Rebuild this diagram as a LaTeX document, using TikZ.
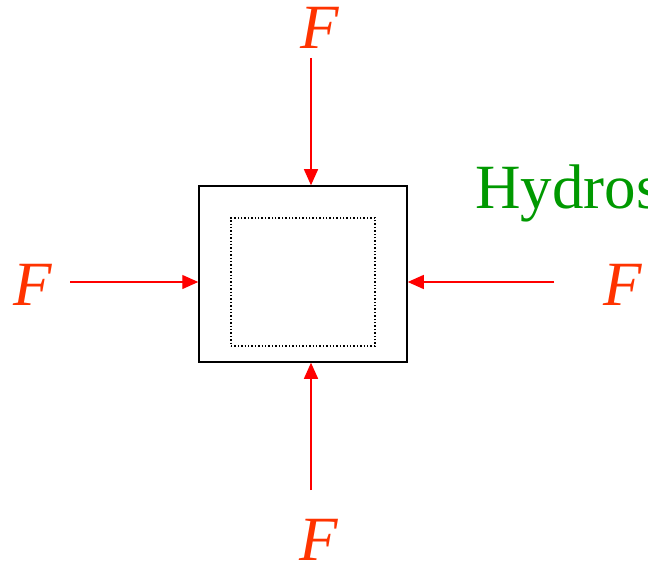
\documentclass[tikz,border=0pt]{standalone}
\usepackage{fontspec}
\setmainfont{Liberation Serif}
\usetikzlibrary{arrows.meta}
\definecolor{fred}{RGB}{255,51,0}
\definecolor{hgreen}{RGB}{0,153,0}
\tikzset{
  arr/.style={draw=red, line width=1.3pt, -{Triangle[length=16pt,width=14pt]}},
  flabel/.style={text=fred, font=\fontsize{63}{63}\selectfont\itshape, inner sep=0pt, anchor=base},
  outerbox/.style={draw=black, line width=1.5pt, minimum width=208pt, minimum height=176pt, inner sep=0pt},
  innerbox/.style={draw=black, line width=1.4pt, dotted, minimum width=144pt, minimum height=128pt, inner sep=0pt},
}
\begin{document}
\begin{tikzpicture}[x=1pt,y=-1pt]
\useasboundingbox (0,0) rectangle (648,564);
\clip (0,0) rectangle (648,564);
\node[outerbox] (box) at (303,274) {};
\node[innerbox] (inner) at (303,282) {};
\node[flabel] (ft) at (320,49) {F};
\node[flabel] (fl) at (33,305) {F};
\node[flabel] (fr) at (623,305) {F};
\node[flabel] (fb) at (319,560) {F};
\node[text=hgreen, font=\fontsize{63}{63}\selectfont, inner sep=0pt, anchor=base west] (hyd) at (475,209) {Hydrostatic};
\coordinate (ts) at (311,58);
\coordinate (ls) at (70,282);
\coordinate (rs) at (554,282);
\coordinate (bs) at (311,490);
\draw[arr] (ts) -- (ts |- box.north);
\draw[arr] (ls) -- (ls -| box.west);
\draw[arr] (rs) -- (rs -| box.east);
\draw[arr] (bs) -- (bs |- box.south);
\end{tikzpicture}
\end{document}
